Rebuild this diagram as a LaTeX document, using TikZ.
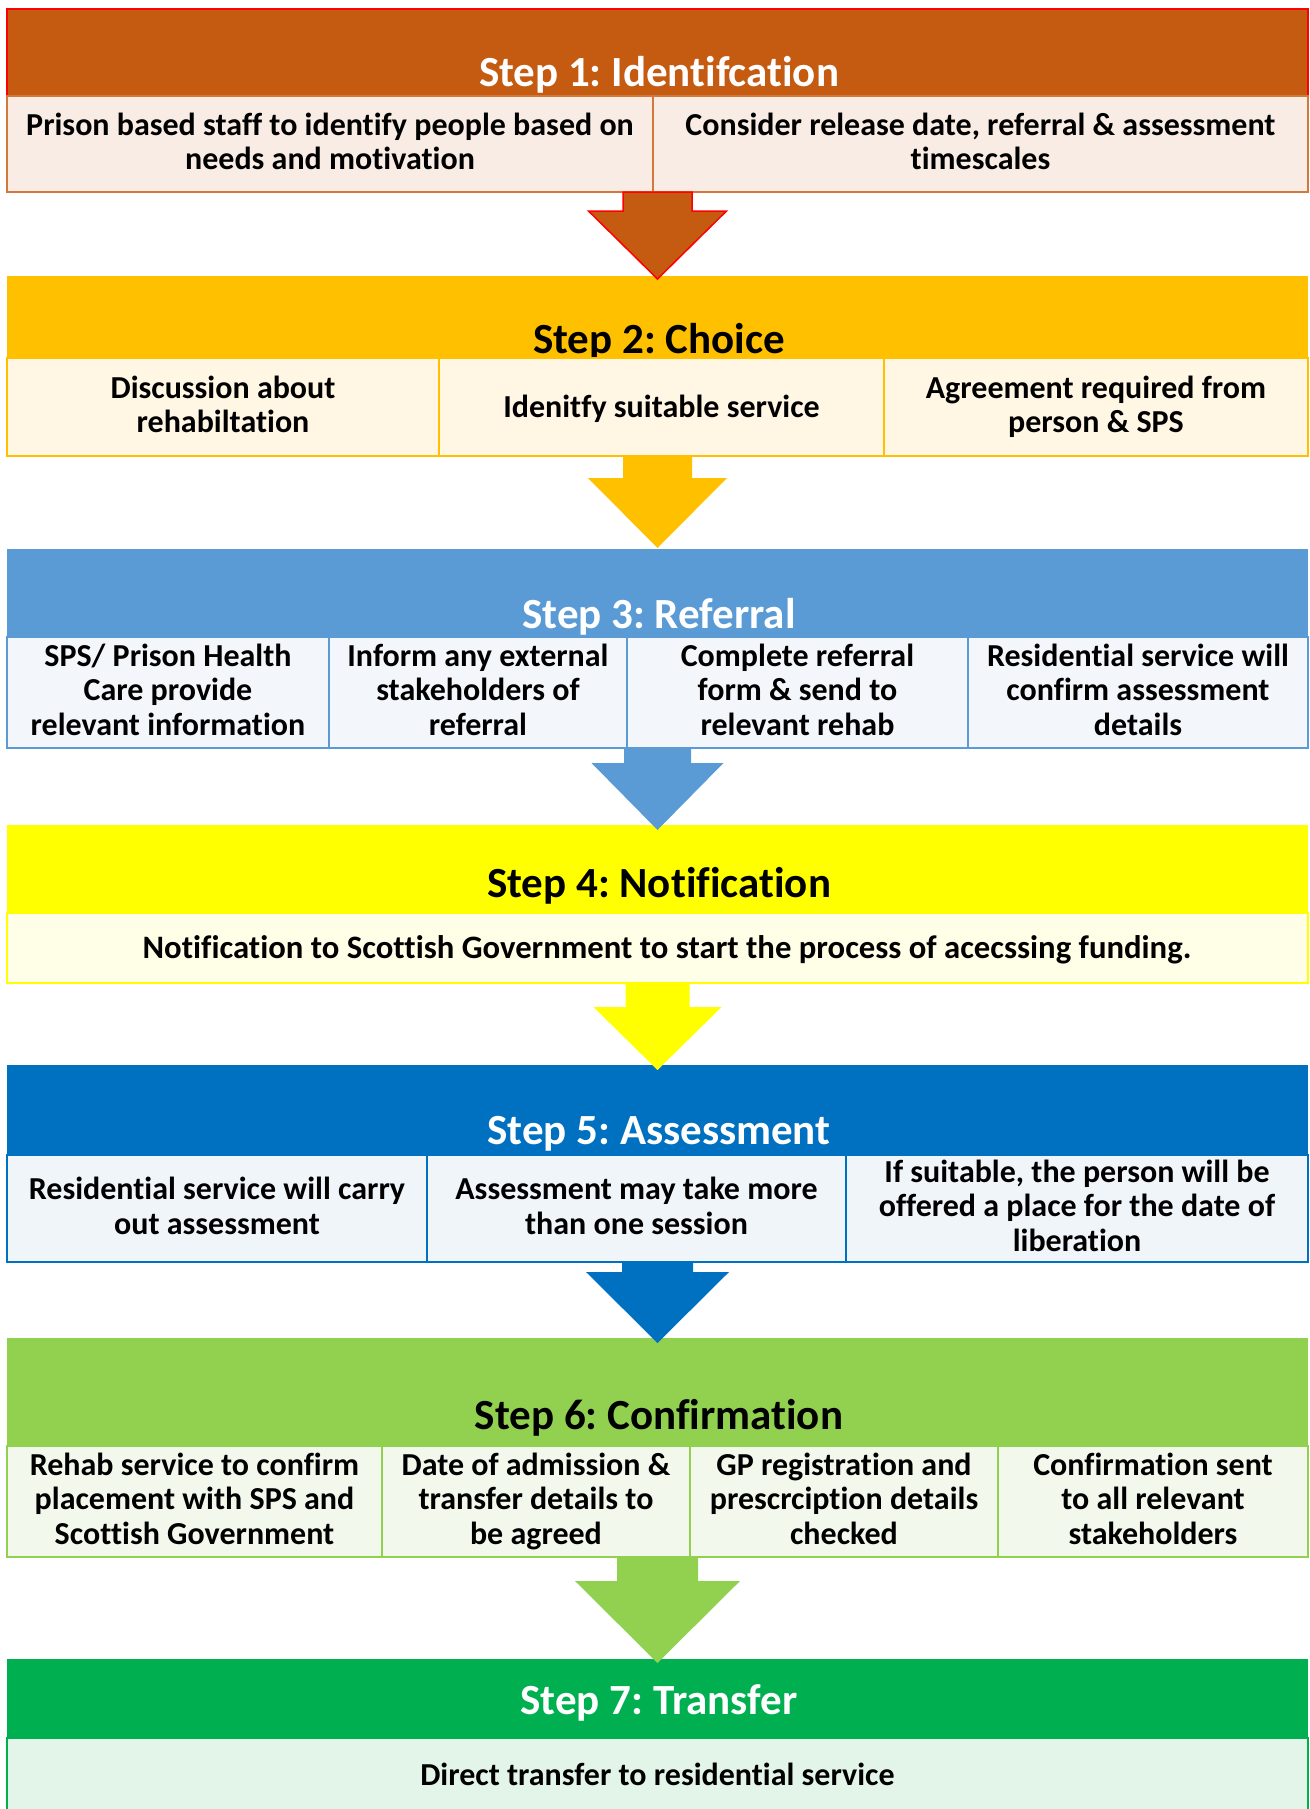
\documentclass[tikz,border=0pt]{standalone}
\usepackage{fontspec}
\setmainfont{Carlito}[Ligatures=NoCommon]
\usetikzlibrary{calc}
\frenchspacing

% step palettes: header fill, cell fill, cell border
\definecolor{hOne}{HTML}{C55A11}\definecolor{cOne}{HTML}{F8ECE4}\definecolor{lOne}{HTML}{D2783C}
\definecolor{hTwo}{HTML}{FFC000}\definecolor{cTwo}{HTML}{FFF6E3}
\definecolor{hThree}{HTML}{5B9BD5}\definecolor{cThree}{HTML}{F3F7FB}
\definecolor{hFour}{HTML}{FFFF00}\definecolor{cFour}{HTML}{FFFEE6}
\definecolor{hFive}{HTML}{0070C0}\definecolor{cFive}{HTML}{F0F5FA}
\definecolor{hSix}{HTML}{92D050}\definecolor{cSix}{HTML}{F2F8EC}
\definecolor{hSeven}{HTML}{00B050}\definecolor{cSeven}{HTML}{E3F4E8}

\tikzset{
  hdr/.style={rectangle, inner sep=0pt, outer sep=0pt, anchor=north west, minimum width=1301},
  ttl/.style={anchor=base, inner sep=0pt, font=\fontsize{43}{50}\selectfont\bfseries},
  cell/.style={rectangle, inner sep=0pt, outer sep=0pt, anchor=north west, line width=2pt,
    align=center, font=\fontsize{32}{34.5}\selectfont\bfseries},
}

% fixed first-line height and last-line depth for cell texts
\newcommand\ctext[1]{\rule{0pt}{26.5pt}#1\rule[-10pt]{0pt}{0pt}}% several lines
\newcommand\stext[1]{\rule{0pt}{32pt}#1\rule[-10.5pt]{0pt}{0pt}}% one line

% block arrow: #1 style, #2 start, #3 tip, #4 shaft half width, #5 head half width, #6 head length
\newcommand\blockarrow[6]{%
  \path[#1] ($(#2)+(-#4,0)$) -- ($(#2)+(#4,0)$) -- ($(#3)+(#4,-#6)$) -- ($(#3)+(#5,-#6)$)
    -- (#3) -- ($(#3)+(-#5,-#6)$) -- ($(#3)+(-#4,-#6)$) -- cycle;}

\begin{document}
\begin{tikzpicture}[x=1pt,y=-1pt]
\useasboundingbox (0,0) rectangle (1309,1809);

% Step 1
\node[hdr, fill=hOne, draw=red, line width=2pt, minimum height=87] (h1) at (7,9) {};
\node[ttl, text=white] (t1) at (659,86.5) {Step 1: Identifcation};
\node[cell, fill=cOne, draw=lOne, minimum width=646, minimum height=96] (c11) at (7,96)
  {\ctext{Prison based staff to identify people based on\\needs and motivation}};
\node[cell, fill=cOne, draw=lOne, minimum width=655, minimum height=96] (c12) at (653,96)
  {\ctext{Consider release date, referral \& assessment\\timescales}};

% Step 2
\node[hdr, fill=hTwo, minimum height=82] (h2) at (7,276) {};
\node[ttl, text=black] (t2) at (659,353.5) {Step 2: Choice};
\node[cell, fill=cTwo, draw=hTwo, minimum width=432, minimum height=98] (c21) at (7,358)
  {\ctext{Discussion about\\rehabiltation}};
\node[cell, fill=cTwo, draw=hTwo, minimum width=445, minimum height=98] (c22) at (439,358)
  {\stext{Idenitfy suitable service}};
\node[cell, fill=cTwo, draw=hTwo, minimum width=424, minimum height=98] (c23) at (884,358)
  {\ctext{Agreement required from\\person \& SPS}};

% Step 3
\node[hdr, fill=hThree, minimum height=88] (h3) at (7,549) {};
\node[ttl, text=white] (t3) at (659,628.5) {Step 3: Referral};
\node[cell, fill=cThree, draw=hThree, minimum width=322, minimum height=111] (c31) at (7,637)
  {\ctext{SPS/ Prison Health\\Care provide\\relevant information}};
\node[cell, fill=cThree, draw=hThree, minimum width=298, minimum height=111] (c32) at (329,637)
  {\ctext{Inform any external\\stakeholders of\\referral}};
\node[cell, fill=cThree, draw=hThree, minimum width=341, minimum height=111] (c33) at (627,637)
  {\ctext{Complete referral\\form \& send to\\relevant rehab}};
\node[cell, fill=cThree, draw=hThree, minimum width=340, minimum height=111] (c34) at (968,637)
  {\ctext{Residential service will\\confirm assessment\\details}};

% Step 4
\node[hdr, fill=hFour, minimum height=88] (h4) at (7,825) {};
\node[ttl, text=black] (t4) at (659,897.5) {Step 4: Notification};
\node[cell, fill=cFour, draw=hFour, minimum width=1301, minimum height=70,
  font=\fontsize{32.7}{34.5}\selectfont\bfseries] (c41) at (7,913)
  {\stext{\hspace*{19pt}Notification to Scottish Government to start the process of acecssing funding.}};

% Step 5
\node[hdr, fill=hFive, minimum height=90] (h5) at (7,1065) {};
\node[ttl, text=white] (t5) at (659,1144.5) {Step 5: Assessment};
\node[cell, fill=cFive, draw=hFive, minimum width=420, minimum height=107] (c51) at (7,1155)
  {\ctext{Residential service will carry\\out assessment}};
\node[cell, fill=cFive, draw=hFive, minimum width=419, minimum height=107] (c52) at (427,1155)
  {\ctext{Assessment may take more\\than one session}};
\node[cell, fill=cFive, draw=hFive, minimum width=462, minimum height=107] (c53) at (846,1155)
  {\ctext{If suitable, the person will be\\offered a place for the date of\\liberation}};

% Step 6
\node[hdr, fill=hSix, minimum height=108] (h6) at (7,1338) {};
\node[ttl, text=black] (t6) at (659,1429) {Step 6: Confirmation};
\node[cell, fill=cSix, draw=hSix, minimum width=375, minimum height=111] (c61) at (7,1446)
  {\ctext{Rehab service to confirm\\placement with SPS and\\Scottish Government}};
\node[cell, fill=cSix, draw=hSix, minimum width=308, minimum height=111] (c62) at (382,1446)
  {\ctext{Date of admission \&\\transfer details to\\be agreed}};
\node[cell, fill=cSix, draw=hSix, minimum width=308, minimum height=111] (c63) at (690,1446)
  {\ctext{GP registration and\\prescrciption details\\checked}};
\node[cell, fill=cSix, draw=hSix, minimum width=310, minimum height=111] (c64) at (998,1446)
  {\ctext{Confirmation sent\\to all relevant\\stakeholders}};

% Step 7
\node[hdr, fill=hSeven, minimum height=79] (h7) at (7,1659) {};
\node[ttl, text=white] (t7) at (659,1714.5) {Step 7: Transfer};
\node[cell, fill=cSeven, draw=hSeven, minimum width=1301, minimum height=73] (c71) at (7,1738)
  {\stext{Direct transfer to residential service}};

% arrows between the steps
\coordinate (a1s) at (h1.north |- c11.south); \coordinate (a1e) at ($(h2.north)+(0,3)$);
\coordinate (a2s) at (h2.north |- c21.south); \coordinate (a2e) at ($(h3.north)+(0,-1)$);
\coordinate (a3s) at (h3.north |- c31.south); \coordinate (a3e) at ($(h4.north)+(0,5)$);
\coordinate (a4s) at (h4.north |- c41.south); \coordinate (a4e) at ($(h5.north)+(0,5)$);
\coordinate (a5s) at (h5.north |- c51.south); \coordinate (a5e) at ($(h6.north)+(0,5)$);
\coordinate (a6s) at (h6.north |- c61.south); \coordinate (a6e) at ($(h7.north)+(0,4)$);

\blockarrow{fill=hOne, draw=red, line width=1.5pt, line join=miter}{a1s}{a1e}{34.5}{69}{68}
\blockarrow{fill=hTwo}{a2s}{a2e}{34.5}{69.5}{70}
\blockarrow{fill=hThree}{a3s}{a3e}{33.5}{66}{67}
\blockarrow{fill=hFour}{a4s}{a4e}{32}{64}{63}
\blockarrow{fill=hFive}{a5s}{a5e}{35.5}{71.5}{71}
\blockarrow{fill=hSix}{a6s}{a6e}{40.5}{82.5}{82}
\end{tikzpicture}
\end{document}
